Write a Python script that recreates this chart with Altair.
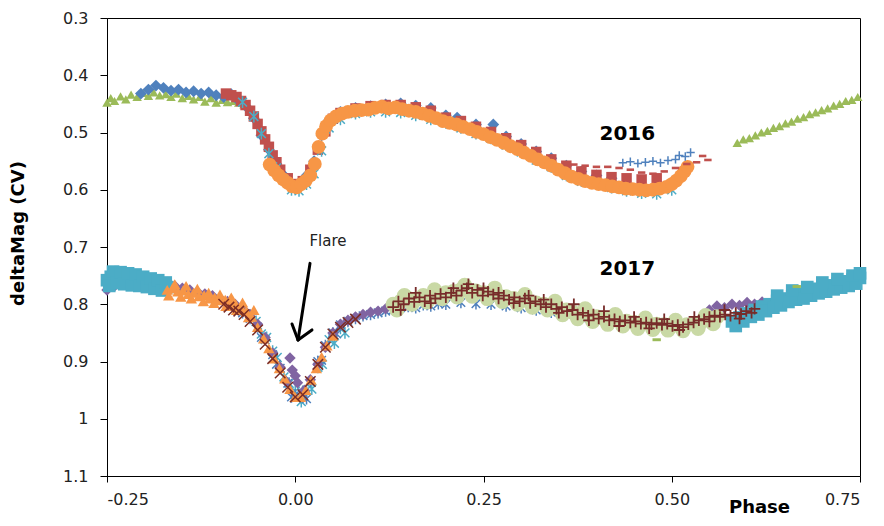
import altair as alt
import pandas as pd

# ---------------- 2016 light curve (phase, deltaMag) ----------------
green_tri_2016 = [(-0.250, 0.448), (-0.245, 0.440), (-0.240, 0.445), (-0.232, 0.437), (-0.225, 0.442),
                  (-0.218, 0.434), (-0.210, 0.438), (-0.202, 0.431), (-0.195, 0.436), (-0.188, 0.430),
                  (-0.180, 0.435), (-0.172, 0.433), (-0.165, 0.438), (-0.158, 0.432), (-0.150, 0.440),
                  (-0.142, 0.436), (-0.135, 0.442), (-0.127, 0.438), (-0.120, 0.446), (-0.112, 0.440),
                  (-0.105, 0.448), (-0.097, 0.443), (-0.090, 0.447), (-0.082, 0.445), (-0.075, 0.448),
                  (-0.068, 0.451),
                  (0.587, 0.518), (0.595, 0.512), (0.603, 0.510), (0.611, 0.505), (0.619, 0.500),
                  (0.627, 0.497), (0.635, 0.492), (0.643, 0.489), (0.651, 0.484), (0.659, 0.481),
                  (0.667, 0.476), (0.675, 0.473), (0.683, 0.468), (0.691, 0.465), (0.699, 0.461),
                  (0.707, 0.458), (0.715, 0.453), (0.723, 0.450), (0.731, 0.445), (0.739, 0.443),
                  (0.747, 0.438)]

blue_dia_2016 = [(-0.205, 0.432), (-0.195, 0.425), (-0.185, 0.418), (-0.175, 0.422), (-0.165, 0.427),
                 (-0.155, 0.425), (-0.145, 0.430), (-0.135, 0.428), (-0.125, 0.432), (-0.115, 0.430),
                 (-0.105, 0.435), (-0.095, 0.438), (-0.085, 0.433), (-0.075, 0.445), (-0.065, 0.455),
                 (-0.055, 0.475), (-0.045, 0.505), (-0.035, 0.530), (-0.025, 0.555), (-0.015, 0.575),
                 (-0.005, 0.590), (0.005, 0.592), (0.015, 0.575), (0.025, 0.550), (0.035, 0.505),
                 (0.045, 0.478), (0.060, 0.464), (0.080, 0.457), (0.100, 0.454), (0.120, 0.451),
                 (0.140, 0.449), (0.160, 0.453), (0.180, 0.457), (0.200, 0.470), (0.215, 0.474),
                 (0.240, 0.486), (0.263, 0.486), (0.280, 0.507), (0.300, 0.520), (0.320, 0.533),
                 (0.340, 0.545), (0.360, 0.558), (0.380, 0.568), (0.400, 0.575), (0.420, 0.580)]

red_sq_2016 = [(-0.092, 0.432), (-0.085, 0.435), (-0.078, 0.438), (-0.072, 0.445), (-0.066, 0.452),
               (-0.060, 0.462), (-0.055, 0.472), (-0.050, 0.485), (-0.045, 0.498), (-0.040, 0.512),
               (-0.035, 0.525), (-0.030, 0.540), (-0.025, 0.552), (-0.020, 0.565), (-0.010, 0.580),
               (0.000, 0.590), (0.010, 0.585), (0.020, 0.565), (0.030, 0.530), (0.040, 0.498),
               (0.050, 0.476), (0.060, 0.466), (0.080, 0.458), (0.100, 0.454), (0.120, 0.452),
               (0.140, 0.452), (0.160, 0.456), (0.180, 0.462), (0.200, 0.474), (0.220, 0.480),
               (0.240, 0.490), (0.260, 0.499), (0.280, 0.510), (0.300, 0.522), (0.320, 0.534),
               (0.340, 0.547), (0.360, 0.558), (0.380, 0.568), (0.400, 0.574), (0.420, 0.578),
               (0.440, 0.580), (0.460, 0.582), (0.480, 0.580)]

aqua_star_2016 = [(-0.070, 0.447), (-0.055, 0.472), (-0.045, 0.502), (-0.035, 0.537), (-0.025, 0.562),
                  (-0.015, 0.582), (-0.005, 0.600), (0.005, 0.602), (0.015, 0.590), (0.025, 0.572),
                  (0.035, 0.532), (0.045, 0.492), (0.060, 0.477), (0.080, 0.467), (0.100, 0.464),
                  (0.120, 0.464), (0.140, 0.465), (0.160, 0.470), (0.180, 0.477), (0.200, 0.483),
                  (0.220, 0.492), (0.240, 0.502), (0.260, 0.510), (0.280, 0.522), (0.300, 0.534),
                  (0.320, 0.548), (0.340, 0.560), (0.360, 0.575), (0.380, 0.585), (0.400, 0.590),
                  (0.420, 0.596), (0.440, 0.602), (0.460, 0.606), (0.480, 0.607), (0.500, 0.600)]

orange_circ_2016 = [(-0.034, 0.556), (-0.028, 0.566), (-0.022, 0.575), (-0.016, 0.582), (-0.010, 0.588),
                    (-0.004, 0.594), (0.002, 0.596), (0.008, 0.590), (0.014, 0.584), (0.020, 0.575),
                    (0.026, 0.555), (0.031, 0.525), (0.036, 0.502), (0.041, 0.489), (0.047, 0.479),
                    (0.054, 0.472), (0.062, 0.467), (0.070, 0.464), (0.079, 0.462), (0.088, 0.461),
                    (0.097, 0.460), (0.106, 0.457), (0.115, 0.455), (0.124, 0.458), (0.133, 0.456),
                    (0.142, 0.459), (0.151, 0.462), (0.160, 0.464), (0.169, 0.467), (0.178, 0.471),
                    (0.187, 0.475), (0.196, 0.480), (0.205, 0.483), (0.214, 0.486), (0.223, 0.490),
                    (0.232, 0.494), (0.241, 0.499), (0.250, 0.503), (0.259, 0.508), (0.268, 0.513),
                    (0.277, 0.518), (0.286, 0.524), (0.295, 0.529), (0.304, 0.535), (0.313, 0.541),
                    (0.322, 0.547), (0.331, 0.552), (0.340, 0.558), (0.349, 0.565), (0.358, 0.571),
                    (0.367, 0.577), (0.376, 0.581), (0.385, 0.585), (0.394, 0.588), (0.403, 0.590),
                    (0.412, 0.592), (0.421, 0.594), (0.430, 0.596), (0.439, 0.598), (0.448, 0.599),
                    (0.457, 0.600), (0.466, 0.601), (0.475, 0.600), (0.484, 0.598), (0.493, 0.595),
                    (0.500, 0.590), (0.506, 0.584), (0.512, 0.576), (0.517, 0.568), (0.521, 0.560)]

blue_plus_2016 = [(0.435, 0.553), (0.445, 0.551), (0.455, 0.554), (0.465, 0.552), (0.475, 0.550),
                  (0.485, 0.553), (0.495, 0.549), (0.505, 0.547), (0.510, 0.540), (0.518, 0.542),
                  (0.525, 0.535)]

red_dash_2016 = [(0.370, 0.556), (0.385, 0.558), (0.400, 0.560), (0.415, 0.560), (0.430, 0.562),
                 (0.445, 0.565), (0.460, 0.570), (0.475, 0.572), (0.490, 0.568), (0.505, 0.562),
                 (0.520, 0.555), (0.533, 0.552), (0.541, 0.541), (0.548, 0.548)]

# ---------------- 2017 light curve (phase, deltaMag) ----------------
aqua_star_2017 = [(-0.060, 0.822), (-0.045, 0.852), (-0.030, 0.882), (-0.015, 0.927), (0.000, 0.952),
                  (0.015, 0.950), (0.030, 0.910), (0.045, 0.862), (0.060, 0.842),
                  (-0.052, 0.830), (-0.038, 0.858), (-0.024, 0.893), (-0.008, 0.938), (0.008, 0.970),
                  (0.022, 0.948), (0.036, 0.905), (0.052, 0.868), (0.066, 0.850)]

blue_star_2017 = [(-0.070, 0.815), (-0.060, 0.825), (-0.050, 0.840), (-0.040, 0.862), (-0.030, 0.888),
                  (-0.020, 0.912), (-0.010, 0.938), (0.000, 0.958), (0.010, 0.955), (0.020, 0.935),
                  (0.030, 0.900), (0.040, 0.872), (0.050, 0.850), (0.060, 0.836), (0.070, 0.830),
                  (0.080, 0.825), (0.090, 0.820), (0.100, 0.818), (0.110, 0.815), (0.120, 0.812),
                  (0.130, 0.810), (0.140, 0.806), (0.150, 0.804), (0.160, 0.806), (0.170, 0.801),
                  (0.180, 0.803), (0.190, 0.799), (0.200, 0.800), (0.220, 0.797), (0.240, 0.799),
                  (0.260, 0.800), (0.280, 0.803), (0.300, 0.806), (0.320, 0.810), (0.340, 0.814),
                  (0.360, 0.818), (0.380, 0.824), (0.400, 0.828), (0.420, 0.831), (0.440, 0.835),
                  (-0.045, 0.858), (-0.025, 0.905), (-0.005, 0.962), (0.015, 0.965), (0.035, 0.898),
                  (0.055, 0.852)]

purple_dia_2017 = [(-0.250, 0.775), (-0.240, 0.768), (-0.190, 0.762), (-0.180, 0.758), (-0.170, 0.762),
                   (-0.160, 0.768), (-0.150, 0.772), (-0.140, 0.775), (-0.130, 0.778), (-0.120, 0.782),
                   (-0.110, 0.785), (-0.100, 0.790), (-0.090, 0.795), (-0.080, 0.800), (-0.070, 0.808),
                   (-0.060, 0.818), (-0.050, 0.835), (-0.040, 0.858), (-0.030, 0.885), (-0.020, 0.910),
                   (-0.012, 0.935), (-0.007, 0.894), (-0.004, 0.915), (0.000, 0.925), (0.003, 0.937),
                   (0.012, 0.950), (0.020, 0.932), (0.030, 0.905), (0.040, 0.875), (0.050, 0.850),
                   (0.060, 0.835), (0.070, 0.828), (0.080, 0.822), (0.090, 0.818), (0.100, 0.814),
                   (0.110, 0.812), (0.120, 0.808),
                   (0.550, 0.810), (0.560, 0.803), (0.570, 0.806), (0.580, 0.800), (0.590, 0.802),
                   (0.600, 0.797), (0.610, 0.800), (0.620, 0.796)]

aqua_sq_2017 = [(-0.250, 0.758), (-0.245, 0.752), (-0.240, 0.750), (-0.235, 0.748), (-0.230, 0.750),
                (-0.225, 0.752), (-0.220, 0.755), (-0.215, 0.752), (-0.210, 0.757), (-0.205, 0.756),
                (-0.200, 0.760), (-0.195, 0.759), (-0.190, 0.762), (-0.185, 0.764), (-0.180, 0.766),
                (-0.175, 0.768), (-0.170, 0.770),
                (-0.247, 0.768), (-0.242, 0.743), (-0.237, 0.763), (-0.232, 0.744), (-0.227, 0.765),
                (-0.222, 0.746), (-0.217, 0.767), (-0.212, 0.748), (-0.207, 0.768), (-0.202, 0.752),
                (-0.197, 0.770), (-0.192, 0.755), (-0.187, 0.773), (-0.182, 0.758), (-0.177, 0.776),
                (-0.172, 0.762),
                (0.580, 0.830), (0.590, 0.823), (0.600, 0.816), (0.610, 0.810), (0.620, 0.804),
                (0.630, 0.800), (0.640, 0.794), (0.650, 0.790), (0.660, 0.786), (0.670, 0.782),
                (0.680, 0.778), (0.690, 0.773), (0.700, 0.770), (0.710, 0.767), (0.720, 0.764),
                (0.730, 0.760), (0.740, 0.757), (0.750, 0.754),
                (0.585, 0.838), (0.595, 0.830), (0.605, 0.822), (0.615, 0.818), (0.625, 0.812),
                (0.635, 0.806), (0.645, 0.802), (0.655, 0.796), (0.665, 0.792), (0.675, 0.790),
                (0.685, 0.785), (0.695, 0.781), (0.705, 0.778), (0.715, 0.774), (0.725, 0.771),
                (0.735, 0.768), (0.745, 0.764),
                (0.640, 0.785), (0.660, 0.776), (0.680, 0.770), (0.700, 0.762), (0.720, 0.756),
                (0.740, 0.750), (0.750, 0.746)]

orange_tri_2017 = [(-0.170, 0.775), (-0.163, 0.772), (-0.156, 0.778), (-0.149, 0.776), (-0.142, 0.782),
                   (-0.135, 0.780), (-0.128, 0.786), (-0.121, 0.784), (-0.114, 0.790), (-0.107, 0.788),
                   (-0.100, 0.793), (-0.093, 0.792), (-0.086, 0.797), (-0.079, 0.800), (-0.072, 0.806),
                   (-0.065, 0.812), (-0.058, 0.822), (-0.050, 0.840), (-0.042, 0.860), (-0.035, 0.877),
                   (-0.028, 0.895), (-0.021, 0.912), (-0.014, 0.930), (-0.007, 0.948), (0.000, 0.962),
                   (0.007, 0.962), (0.014, 0.950), (0.021, 0.932), (0.028, 0.912), (0.035, 0.892),
                   (0.042, 0.872), (0.050, 0.855),
                   (-0.168, 0.785), (-0.160, 0.765), (-0.152, 0.787), (-0.145, 0.768), (-0.138, 0.790),
                   (-0.130, 0.773), (-0.122, 0.795), (-0.115, 0.780), (-0.108, 0.798), (-0.100, 0.783),
                   (-0.092, 0.803), (-0.085, 0.788), (-0.078, 0.810), (-0.070, 0.797), (-0.062, 0.823),
                   (-0.055, 0.810)]

darkred_x_2017 = [(-0.095, 0.800), (-0.088, 0.805), (-0.082, 0.810), (-0.075, 0.812), (-0.068, 0.818),
                  (-0.060, 0.830), (-0.050, 0.845), (-0.040, 0.870), (-0.030, 0.895), (-0.020, 0.920),
                  (-0.010, 0.945), (0.000, 0.962), (0.010, 0.958), (0.020, 0.935), (0.030, 0.905),
                  (0.040, 0.875), (0.050, 0.852), (0.060, 0.840), (0.070, 0.832), (0.080, 0.826)]

palegreen_circ_2017 = [(0.130, 0.800), (0.140, 0.795), (0.150, 0.790), (0.160, 0.792), (0.170, 0.785),
                       (0.180, 0.788), (0.190, 0.782), (0.200, 0.780), (0.210, 0.778), (0.220, 0.775),
                       (0.230, 0.776), (0.240, 0.777), (0.250, 0.780), (0.260, 0.782), (0.270, 0.785),
                       (0.280, 0.787), (0.290, 0.790), (0.300, 0.792), (0.310, 0.795), (0.320, 0.798),
                       (0.330, 0.800), (0.340, 0.805), (0.350, 0.808), (0.360, 0.810), (0.370, 0.815),
                       (0.380, 0.818), (0.390, 0.820), (0.400, 0.822), (0.410, 0.825), (0.420, 0.826),
                       (0.430, 0.828), (0.440, 0.830), (0.450, 0.832), (0.460, 0.833), (0.470, 0.834),
                       (0.480, 0.835), (0.490, 0.836), (0.500, 0.837), (0.510, 0.838), (0.520, 0.836),
                       (0.530, 0.834), (0.540, 0.830), (0.550, 0.826), (0.560, 0.822),
                       (0.135, 0.810), (0.155, 0.800), (0.175, 0.796), (0.195, 0.790), (0.215, 0.787),
                       (0.235, 0.786), (0.255, 0.790), (0.275, 0.795), (0.295, 0.800), (0.315, 0.805),
                       (0.335, 0.810), (0.355, 0.818), (0.375, 0.825), (0.395, 0.830), (0.415, 0.835),
                       (0.435, 0.838), (0.455, 0.842), (0.475, 0.844), (0.495, 0.845), (0.515, 0.846),
                       (0.535, 0.842), (0.555, 0.834),
                       (0.145, 0.785), (0.185, 0.775), (0.225, 0.767), (0.265, 0.772), (0.305, 0.783),
                       (0.345, 0.795), (0.385, 0.808), (0.425, 0.818), (0.465, 0.824), (0.505, 0.828),
                       (0.545, 0.820)]

darkred_plus_2017 = [(0.130, 0.805), (0.137, 0.795), (0.144, 0.800), (0.151, 0.790), (0.158, 0.796),
                     (0.165, 0.788), (0.172, 0.795), (0.179, 0.785), (0.186, 0.790), (0.193, 0.782),
                     (0.200, 0.788), (0.207, 0.780), (0.214, 0.785), (0.221, 0.776), (0.228, 0.772),
                     (0.235, 0.780), (0.242, 0.775), (0.249, 0.785), (0.256, 0.778), (0.263, 0.783),
                     (0.270, 0.790), (0.277, 0.785), (0.284, 0.792), (0.291, 0.788), (0.298, 0.795),
                     (0.305, 0.790), (0.312, 0.798), (0.319, 0.795), (0.326, 0.800), (0.333, 0.805),
                     (0.340, 0.800), (0.347, 0.808), (0.354, 0.805), (0.361, 0.812), (0.368, 0.810),
                     (0.375, 0.818), (0.382, 0.815), (0.389, 0.820), (0.396, 0.818), (0.403, 0.825),
                     (0.410, 0.822), (0.417, 0.828), (0.424, 0.826), (0.431, 0.830), (0.438, 0.828),
                     (0.445, 0.832), (0.452, 0.830), (0.459, 0.834), (0.466, 0.832), (0.473, 0.835),
                     (0.480, 0.833), (0.487, 0.836), (0.494, 0.834), (0.501, 0.838), (0.508, 0.836),
                     (0.515, 0.840), (0.522, 0.835), (0.529, 0.832), (0.536, 0.828), (0.543, 0.826),
                     (0.550, 0.822), (0.557, 0.820), (0.564, 0.822), (0.571, 0.818), (0.578, 0.820),
                     (0.585, 0.815), (0.592, 0.817), (0.599, 0.812), (0.606, 0.815),
                     (0.140, 0.810), (0.160, 0.780), (0.180, 0.798), (0.210, 0.772), (0.230, 0.765),
                     (0.250, 0.772), (0.270, 0.780), (0.290, 0.798), (0.310, 0.785), (0.330, 0.792),
                     (0.350, 0.815), (0.370, 0.800), (0.390, 0.828), (0.410, 0.812), (0.430, 0.838),
                     (0.450, 0.822), (0.470, 0.842), (0.490, 0.826), (0.510, 0.845), (0.530, 0.822),
                     (0.550, 0.830), (0.570, 0.810), (0.590, 0.825), (0.610, 0.808)]

green_dash_2017 = [(0.480, 0.862), (0.666, 0.769)]

# ---------------- annotations ----------------
label_text = ["2016", "2017"]
label_phase = [0.441, 0.441]
label_mag = [0.503, 0.739]

flare_text = ["Flare"]
flare_phase = [0.0435]
flare_mag = [0.690]

# arrow segments: shaft, left wing, right wing (start -> end)
arrow_phase = [0.0196, -0.0043, 0.0222]
arrow_mag = [0.7286, 0.8345, 0.8449]
arrow_phase2 = [0.0037, 0.0037, 0.0037]
arrow_mag2 = [0.8623, 0.8623, 0.8623]

x_ticks = [-0.25, 0.0, 0.25, 0.5, 0.75]
y_ticks = [0.3, 0.4, 0.5, 0.6, 0.7, 0.8, 0.9, 1.0, 1.1]

FONT = "DejaVu Sans"
PLOT_H = 458

x_axis = alt.Axis(values=x_ticks,
                  labelExpr="datum.value < 0 ? '-' + format(-datum.value, '.2f') : format(datum.value, '.2f')",
                  title="Phase", titleX=652, titleY=31, titleBaseline="middle", titleAlign="center",
                  titleFont=FONT, titleFontSize=18, titleFontWeight="bold", titleColor="black",
                  grid=False, tickSize=6, tickColor="black", domainColor="black",
                  labelFont=FONT, labelFontSize=16, labelColor="#222222", labelPadding=9)
y_axis = alt.Axis(values=y_ticks, labelExpr="format(datum.value, '~g')",
                  title="deltaMag (CV)", titleAngle=270, titleX=-89, titleY=215,
                  titleBaseline="middle", titleAlign="center",
                  titleFont=FONT, titleFontSize=18, titleFontWeight="bold", titleColor="black",
                  grid=False, tickSize=7, tickColor="black", domainColor="black",
                  labelFont=FONT, labelFontSize=16, labelColor="#222222", labelPadding=12)

X = alt.X("phase:Q", scale=alt.Scale(domain=[-0.25, 0.75], nice=False, zero=False), axis=x_axis)
Y = alt.Y("mag:Q", scale=alt.Scale(domain=[0.3, 1.1], reverse=True, nice=False, zero=False), axis=y_axis)

ASTER = "M0,-1L0,1M-0.75,-0.75L0.75,0.75M-0.75,0.75L0.75,-0.75"
PLUS = "M-1,0L1,0M0,-1L0,1"
XMARK = "M-1,-1L1,1M-1,1L1,-1"
DASH = "M-1,-0.35L1,-0.35L1,0.35L-1,0.35Z"


def pts(pairs, shape, color, size, filled=True, sw=1.0):
    df = pd.DataFrame(pairs, columns=["phase", "mag"])
    return alt.Chart(df).mark_point(shape=shape, filled=filled, color=color, size=size,
                                    strokeWidth=sw, opacity=1).encode(x=X, y=Y)


layers = [
    pts(green_tri_2016, "triangle-up", "#9BBB59", 90),
    pts(blue_dia_2016, "diamond", "#4F81BD", 140),
    pts(red_sq_2016, "square", "#C0504D", 110),
    pts(aqua_star_2016, ASTER, "#4BACC6", 140, filled=False, sw=1.5),
    pts(orange_circ_2016, "circle", "#F79646", 190),
    pts(blue_plus_2016, PLUS, "#4F81BD", 70, filled=False, sw=1.5),
    pts(red_dash_2016, DASH, "#C0504D", 55),
    pts(aqua_star_2017, ASTER, "#4BACC6", 140, filled=False, sw=1.5),
    pts(blue_star_2017, ASTER, "#4F81BD", 130, filled=False, sw=1.5),
    pts(purple_dia_2017, "diamond", "#8064A2", 130),
    pts(aqua_sq_2017, "square", "#4BACC6", 160),
    pts(orange_tri_2017, "triangle-up", "#F79646", 130),
    pts(darkred_x_2017, XMARK, "#7B2D26", 110, filled=False, sw=1.5),
    pts(palegreen_circ_2017, "circle", "#C9D9A5", 230),
    pts(darkred_plus_2017, PLUS, "#772C2A", 130, filled=False, sw=1.8),
    pts(green_dash_2017, DASH, "#9BBB59", 70),
]

arrow_df = pd.DataFrame({"phase": arrow_phase, "mag": arrow_mag,
                         "phase2": arrow_phase2, "mag2": arrow_mag2})
arrow = alt.Chart(arrow_df).mark_rule(color="black", strokeWidth=3, strokeCap="round").encode(
    x=X, y=Y, x2="phase2:Q", y2="mag2:Q")

year_df = pd.DataFrame({"phase": label_phase, "mag": label_mag, "t": label_text})
years = alt.Chart(year_df).mark_text(font=FONT, fontSize=20, fontWeight="bold", color="black",
                                     align="center", baseline="middle").encode(x=X, y=Y, text="t:N")

flare_df = pd.DataFrame({"phase": flare_phase, "mag": flare_mag, "t": flare_text})
flare = alt.Chart(flare_df).mark_text(font=FONT, fontSize=15, color="#222222",
                                      align="center", baseline="middle").encode(x=X, y=Y, text="t:N")

chart = alt.layer(*layers, arrow, years, flare).properties(
    width=753, height=PLOT_H,
    autosize=alt.AutoSizeParams(type="none"),
    padding={"left": 99, "top": 10, "right": 16, "bottom": 42},
).configure_view(stroke="black", strokeWidth=1)

chart.save("out.html", embed_options={"renderer": "svg", "actions": False})
